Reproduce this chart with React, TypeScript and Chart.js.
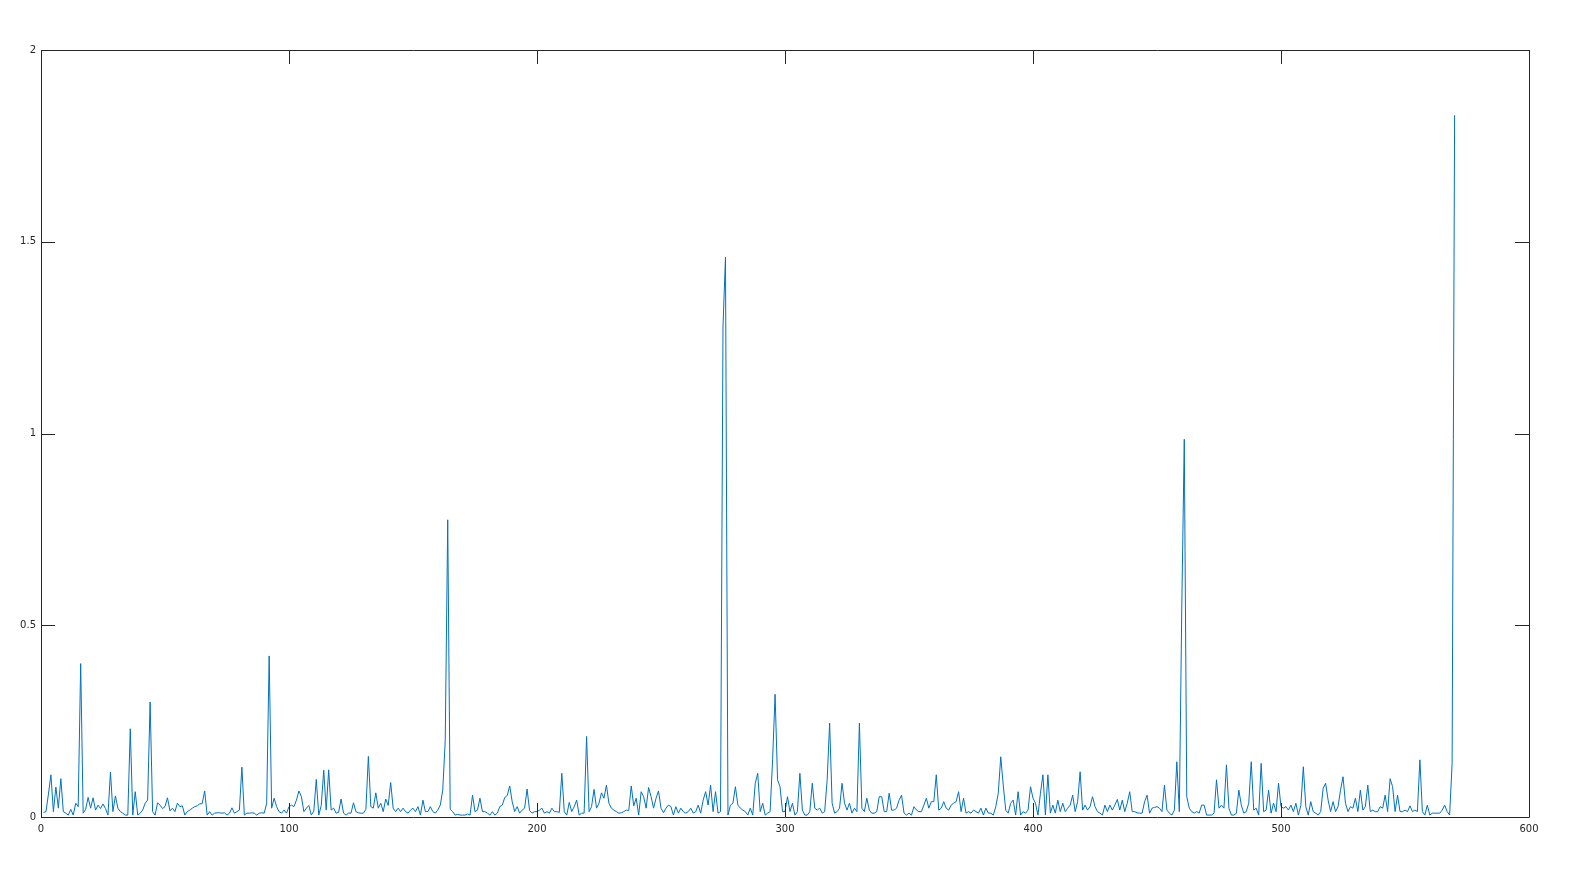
import React, { useEffect, useRef } from "react";
import { Chart, registerables } from "chart.js";

Chart.register(...registerables);

// Sample values (index 1..570)
const magnitude: number[] = [
  0.012, 0.014, 0.06, 0.11, 0.014, 0.078, 0.023, 0.1, 0.014, 0.01,
  0.005, 0.02, 0.005, 0.036, 0.027, 0.4, 0.01, 0.02, 0.051, 0.023,
  0.05, 0.018, 0.031, 0.022, 0.034, 0.022, 0.005, 0.117, 0.014, 0.055,
  0.023, 0.014, 0.01, 0.005, 0.005, 0.23, 0.005, 0.066, 0.005, 0.01,
  0.018, 0.036, 0.044, 0.3, 0.014, 0.005, 0.037, 0.031, 0.022, 0.027,
  0.05, 0.016, 0.023, 0.014, 0.036, 0.027, 0.029, 0.005, 0.014, 0.018,
  0.023, 0.027, 0.029, 0.034, 0.035, 0.068, 0.005, 0.014, 0.005, 0.01,
  0.011, 0.011, 0.01, 0.011, 0.005, 0.01, 0.024, 0.01, 0.014, 0.018,
  0.13, 0.005, 0.01, 0.01, 0.011, 0.01, 0.005, 0.01, 0.011, 0.01,
  0.036, 0.42, 0.023, 0.049, 0.027, 0.014, 0.01, 0.018, 0.01, 0.027,
  0.031, 0.027, 0.044, 0.068, 0.053, 0.014, 0.023, 0.03, 0.005, 0.015,
  0.098, 0.005, 0.03, 0.122, 0.018, 0.123, 0.018, 0.023, 0.01, 0.012,
  0.047, 0.01, 0.005, 0.01, 0.01, 0.037, 0.014, 0.011, 0.01, 0.01,
  0.02, 0.158, 0.027, 0.023, 0.063, 0.023, 0.036, 0.014, 0.047, 0.03,
  0.09, 0.023, 0.014, 0.023, 0.014, 0.023, 0.014, 0.01, 0.018, 0.023,
  0.014, 0.027, 0.005, 0.044, 0.014, 0.014, 0.027, 0.014, 0.01, 0.018,
  0.031, 0.07, 0.2, 0.775, 0.02, 0.014, 0.005, 0.007, 0.005, 0.005,
  0.005, 0.008, 0.005, 0.057, 0.014, 0.018, 0.049, 0.014, 0.014, 0.01,
  0.005, 0.014, 0.005, 0.01, 0.027, 0.031, 0.051, 0.056, 0.081, 0.04,
  0.014, 0.027, 0.01, 0.018, 0.023, 0.073, 0.017, 0.01, 0.014, 0.014,
  0.018, 0.023, 0.01, 0.014, 0.01, 0.023, 0.014, 0.014, 0.012, 0.114,
  0.014, 0.005, 0.038, 0.014, 0.027, 0.044, 0.005, 0.01, 0.01, 0.21,
  0.014, 0.027, 0.072, 0.023, 0.036, 0.063, 0.049, 0.083, 0.036, 0.023,
  0.018, 0.014, 0.01, 0.011, 0.014, 0.018, 0.017, 0.081, 0.029, 0.049,
  0.005, 0.066, 0.053, 0.023, 0.077, 0.053, 0.023, 0.049, 0.068, 0.023,
  0.011, 0.023, 0.031, 0.027, 0.005, 0.027, 0.01, 0.023, 0.014, 0.01,
  0.014, 0.023, 0.01, 0.014, 0.031, 0.01, 0.044, 0.066, 0.031, 0.083,
  0.014, 0.066, 0.01, 0.014, 1.28, 1.46, 0.005, 0.031, 0.036, 0.079,
  0.031, 0.023, 0.018, 0.014, 0.005, 0.023, 0.005, 0.088, 0.114, 0.014,
  0.036, 0.005, 0.01, 0.014, 0.149, 0.32, 0.097, 0.079, 0.014, 0.014,
  0.053, 0.014, 0.036, 0.005, 0.014, 0.114, 0.018, 0.005, 0.005, 0.014,
  0.088, 0.023, 0.018, 0.023, 0.01, 0.014, 0.097, 0.245, 0.036, 0.01,
  0.014, 0.023, 0.088, 0.036, 0.018, 0.036, 0.01, 0.023, 0.014, 0.245,
  0.023, 0.014, 0.049, 0.018, 0.01, 0.01, 0.014, 0.053, 0.053, 0.014,
  0.014, 0.062, 0.018, 0.018, 0.023, 0.044, 0.057, 0.01, 0.005, 0.01,
  0.005, 0.027, 0.018, 0.014, 0.014, 0.031, 0.049, 0.023, 0.04, 0.04,
  0.11, 0.018, 0.023, 0.04, 0.023, 0.018, 0.031, 0.036, 0.04, 0.066,
  0.014, 0.049, 0.01, 0.014, 0.01, 0.018, 0.014, 0.01, 0.023, 0.005,
  0.023, 0.01, 0.01, 0.005, 0.027, 0.062, 0.157, 0.083, 0.018, 0.01,
  0.036, 0.044, 0.005, 0.066, 0.005, 0.014, 0.01, 0.018, 0.079, 0.049,
  0.036, 0.005, 0.062, 0.11, 0.005, 0.11, 0.01, 0.031, 0.01, 0.044,
  0.014, 0.036, 0.014, 0.023, 0.031, 0.057, 0.014, 0.04, 0.118, 0.018,
  0.031, 0.018, 0.027, 0.053, 0.027, 0.014, 0.01, 0.005, 0.031, 0.014,
  0.031, 0.018, 0.031, 0.046, 0.018, 0.044, 0.014, 0.036, 0.066, 0.014,
  0.014, 0.011, 0.01, 0.01, 0.04, 0.057, 0.01, 0.023, 0.025, 0.027,
  0.023, 0.014, 0.083, 0.018, 0.01, 0.005, 0.018, 0.144, 0.014, 0.55,
  0.985, 0.053, 0.023, 0.014, 0.01, 0.014, 0.01, 0.031, 0.031, 0.005,
  0.005, 0.005, 0.01, 0.097, 0.023, 0.031, 0.023, 0.136, 0.023, 0.005,
  0.005, 0.01, 0.07, 0.031, 0.01, 0.014, 0.036, 0.144, 0.018, 0.023,
  0.005, 0.14, 0.014, 0.018, 0.07, 0.01, 0.036, 0.014, 0.088, 0.027,
  0.023, 0.027, 0.018, 0.031, 0.014, 0.036, 0.005, 0.03, 0.131, 0.027,
  0.005, 0.04, 0.014, 0.01, 0.005, 0.014, 0.075, 0.088, 0.044, 0.014,
  0.04, 0.014, 0.027, 0.07, 0.105, 0.036, 0.014, 0.027, 0.023, 0.049,
  0.014, 0.07, 0.018, 0.027, 0.083, 0.014, 0.018, 0.014, 0.014, 0.027,
  0.023, 0.057, 0.014, 0.1, 0.079, 0.014, 0.057, 0.014, 0.014, 0.018,
  0.014, 0.029, 0.014, 0.018, 0.014, 0.149, 0.014, 0.005, 0.031, 0.005,
  0.01, 0.01, 0.01, 0.01, 0.018, 0.031, 0.014, 0.005, 0.14, 1.83,
];

const xTicks: number[] = [0, 100, 200, 300, 400, 500, 600];
const yTicks: number[] = [0, 0.5, 1, 1.5, 2];
const yTickLabels: string[] = ["0", "0.5", "1", "1.5", "2"];

const AXIS_COLOR = "#262626";
const LINE_COLOR = "#0072BD";
const FONT_FAMILY = "'DejaVu Sans', 'Liberation Sans', sans-serif";

const boxPlugin = {
  id: "matlabBox",
  afterDraw(chart: any) {
    const { ctx, chartArea, scales } = chart;
    const { left, right, top, bottom } = chartArea;
    ctx.save();
    ctx.strokeStyle = AXIS_COLOR;
    ctx.lineWidth = 1;
    ctx.beginPath();
    ctx.rect(Math.round(left) + 0.5, Math.round(top) + 0.5, Math.round(right - left), Math.round(bottom - top));
    ctx.stroke();
    const tl = 14;
    ctx.beginPath();
    for (const v of xTicks) {
      const px = Math.round(scales.x.getPixelForValue(v)) + 0.5;
      ctx.moveTo(px, bottom);
      ctx.lineTo(px, bottom - tl);
      ctx.moveTo(px, top);
      ctx.lineTo(px, top + tl);
    }
    for (const v of yTicks) {
      const py = Math.round(scales.y.getPixelForValue(v)) + 0.5;
      ctx.moveTo(left, py);
      ctx.lineTo(left + tl, py);
      ctx.moveTo(right, py);
      ctx.lineTo(right - tl, py);
    }
    ctx.stroke();
    ctx.restore();
  },
};

export default function App() {
  const canvasRef = useRef<HTMLCanvasElement | null>(null);

  useEffect(() => {
    if (!canvasRef.current) return;
    const points = magnitude.map((v, i) => ({ x: i + 1, y: v }));
    const chart = new Chart(canvasRef.current, {
      type: "line",
      data: {
        datasets: [
          {
            data: points,
            borderColor: LINE_COLOR,
            borderWidth: 1,
            pointRadius: 0,
            tension: 0,
            fill: false,
          },
        ],
      },
      options: {
        responsive: false,
        animation: false,
        maintainAspectRatio: false,
        layout: { padding: { left: 0, top: 50, right: 47, bottom: 33 } },
        plugins: {
          legend: { display: false },
          tooltip: { enabled: false },
        },
        scales: {
          x: {
            type: "linear",
            min: 0,
            max: 600,
            afterBuildTicks: (scale: any) => {
              scale.ticks = xTicks.map((v) => ({ value: v }));
            },
            afterFit: (scale: any) => {
              scale.height = 30;
            },
            grid: { display: false, drawTicks: false },
            border: { display: false },
            ticks: {
              color: AXIS_COLOR,
              font: { family: FONT_FAMILY, size: 10 },
              padding: 6,
              maxRotation: 0,
              autoSkip: false,
              callback: (v: any) => String(v),
            },
          },
          y: {
            type: "linear",
            min: 0,
            max: 2,
            afterBuildTicks: (scale: any) => {
              scale.ticks = yTicks.map((v) => ({ value: v }));
            },
            afterFit: (scale: any) => {
              scale.width = 41;
            },
            grid: { display: false, drawTicks: false },
            border: { display: false },
            ticks: {
              color: AXIS_COLOR,
              font: { family: FONT_FAMILY, size: 10 },
              padding: 5,
              autoSkip: false,
              callback: (v: any) => {
                const idx = yTicks.indexOf(Number(v));
                return idx >= 0 ? yTickLabels[idx] : String(v);
              },
            },
          },
        },
      },
      plugins: [boxPlugin],
    });
    return () => chart.destroy();
  }, []);

  return (
    <div
      style={{
        position: "fixed",
        left: 0,
        top: 0,
        width: 1576,
        height: 880,
        background: "#ffffff",
      }}
    >
      <canvas ref={canvasRef} width={1576} height={880} style={{ width: 1576, height: 880 }} />
    </div>
  );
}
